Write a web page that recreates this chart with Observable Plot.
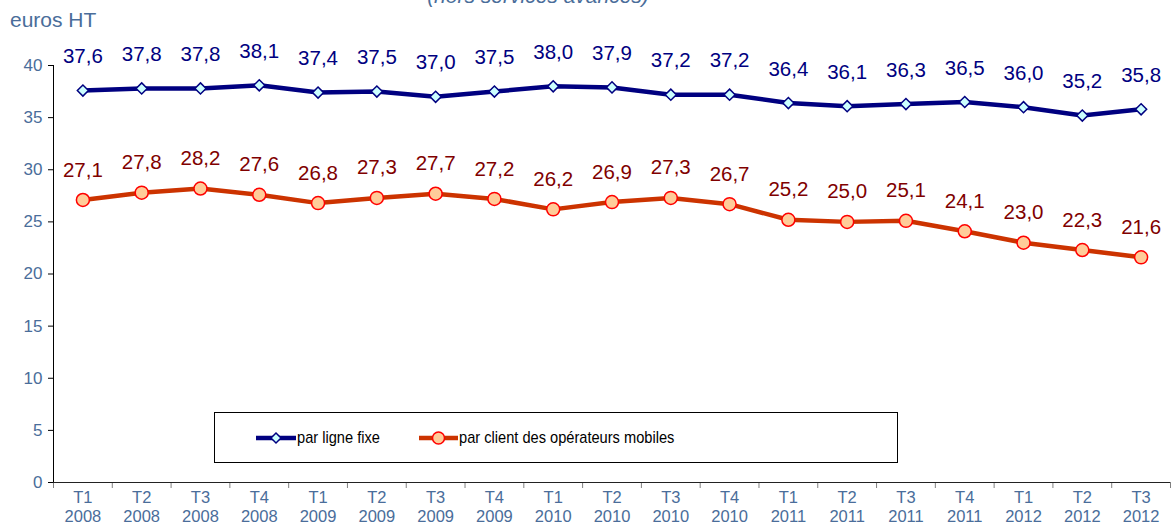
<!DOCTYPE html>
<html>
<head>
<meta charset="utf-8">
<script src="https://cdn.jsdelivr.net/npm/d3@7"></script>
<script src="https://cdn.jsdelivr.net/npm/@observablehq/plot@0.6"></script>
<style>
  html, body { margin: 0; padding: 0; background: #fff; overflow: hidden; }
  #wrap { position: relative; width: 1172px; height: 526px; font-family: "Liberation Sans", Arial, sans-serif; }
  #sub { position: absolute; top: -15px; left: 0; width: 1076px; text-align: center; font-size: 21px; line-height: 1; font-style: italic; color: #4a6d9a; }
  #unit { position: absolute; top: 8px; left: 10px; font-size: 21px; color: #4a6d9a; }
  #legend { position: absolute; left: 214px; top: 412px; width: 682px; height: 49px; border: 1px solid #000; background: #fff; }
  .item { position: absolute; top: 15px; display: flex; align-items: center; font-size: 17px; color: #000; }
  .item span { display: inline-block; transform: scaleX(0.86); transform-origin: left center; white-space: nowrap; }
  .item svg { display: block; }
</style>
</head>
<body>
<div id="wrap">
  <div id="sub">(hors services avancés)</div>
  <div id="unit">euros HT</div>
  <div id="chart"></div>
  <div id="legend">
    <div class="item" style="left:40px"><svg width="42" height="16"><line x1="1" y1="8" x2="41" y2="8" stroke="#000080" stroke-width="4.5"/><path d="M21,3 L26,8 L21,13 L16,8 Z" fill="#ccffff" stroke="#000080" stroke-width="1.5"/></svg><span>par ligne fixe</span></div>
    <div class="item" style="left:203px"><svg width="41" height="16"><line x1="1" y1="8" x2="40" y2="8" stroke="#cc3300" stroke-width="4.5"/><circle cx="20.5" cy="8" r="6" fill="#ffcc99" stroke="#ff0000" stroke-width="1.5"/></svg><span>par client des opérateurs mobiles</span></div>
  </div>
</div>
<script>
const quarters = ["T1","T2","T3","T4","T1","T2","T3","T4","T1","T2","T3","T4","T1","T2","T3","T4","T1","T2","T3"];
const years = ["2008","2008","2008","2008","2009","2009","2009","2009","2010","2010","2010","2010","2011","2011","2011","2011","2012","2012","2012"];
const parLigneFixe = [37.6,37.8,37.8,38.1,37.4,37.5,37.0,37.5,38.0,37.9,37.2,37.2,36.4,36.1,36.3,36.5,36.0,35.2,35.8];
const parClientMobile = [27.1,27.8,28.2,27.6,26.8,27.3,27.7,27.2,26.2,26.9,27.3,26.7,25.2,25.0,25.1,24.1,23.0,22.3,21.6];
const yTicks = [0,5,10,15,20,25,30,35,40];

const idx = d3.range(quarters.length);
const bounds = d3.range(-0.5, quarters.length, 1);
const fmt = v => d3.format(".1f")(v).replace(".", ",");
const axisColor = "#4a6d9a";

const chart = Plot.plot({
  width: 1172,
  height: 526,
  marginTop: 65,
  marginBottom: 44,
  marginLeft: 53,
  marginRight: 2,
  style: { fontFamily: "Liberation Sans, Arial, sans-serif", background: "transparent", overflow: "visible" },
  x: { type: "linear", domain: [-0.5, quarters.length - 0.5] },
  y: { domain: [0, 40] },
  marks: [
    Plot.axisY({ ticks: yTicks, tickSize: 5, tickPadding: 6, fontSize: 17, fill: axisColor, stroke: "#000", label: null }),
    Plot.axisX({ ticks: bounds, tickSize: 6, stroke: "#808080", tickFormat: () => "", label: null }),
    Plot.axisX({ ticks: idx, tickSize: 0, tickPadding: 8, fontSize: 16.5, lineHeight: 1.1, fill: axisColor, tickFormat: i => quarters[i] + "\n" + years[i], label: null }),
    Plot.ruleY([0], { stroke: "#222" }),
    Plot.ruleX([-0.5], { y1: 0, y2: 40, stroke: "#000" }),
    Plot.line(idx, { x: i => i, y: i => parClientMobile[i], stroke: "#cc3300", strokeWidth: 4.5 }),
    Plot.line(idx, { x: i => i, y: i => parLigneFixe[i], stroke: "#000080", strokeWidth: 4.5 }),
    Plot.dot(idx, { x: i => i, y: i => parClientMobile[i], r: 6.5, fill: "#ffcc99", stroke: "#ff0000", strokeWidth: 1.5 }),
    Plot.dot(idx, { x: i => i, y: i => parLigneFixe[i], symbol: "diamond2", r: 5, fill: "#ccffff", stroke: "#000080", strokeWidth: 1.5 }),
    Plot.text(idx, { x: i => i, y: i => parLigneFixe[i], text: i => fmt(parLigneFixe[i]), dy: -34, fill: "#000080", fontSize: 20.5 }),
    Plot.text(idx, { x: i => i, y: i => parClientMobile[i], text: i => fmt(parClientMobile[i]), dy: -30, fill: "#800000", fontSize: 20.5 })
  ]
});
document.getElementById("chart").appendChild(chart);
</script>
</body>
</html>
